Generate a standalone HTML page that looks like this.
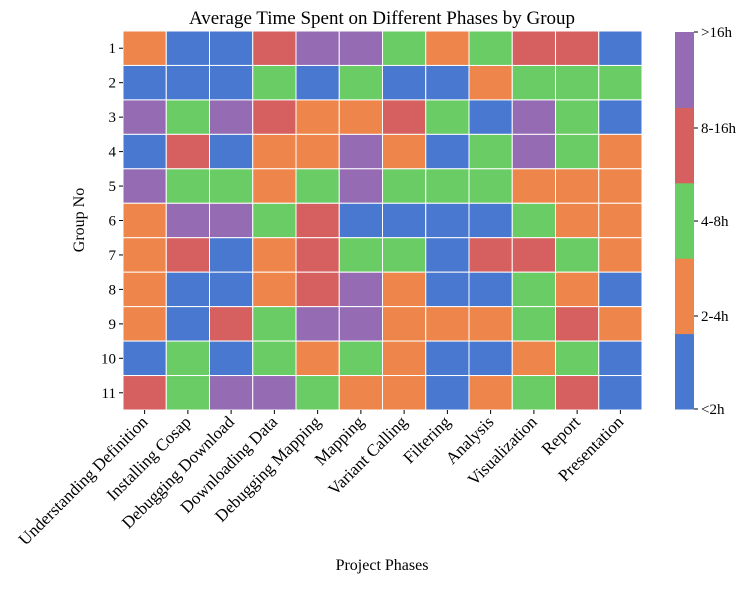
<!DOCTYPE html>
<html><head><meta charset="utf-8"><style>
body{margin:0;background:#fff;}
svg text{font-family:"Liberation Serif",serif;fill:#000;}
</style></head><body>
<svg id="chart" width="752" height="584" xmlns="http://www.w3.org/2000/svg">
<text x="382" y="24" font-size="19" text-anchor="middle">Average Time Spent on Different Phases by Group</text>
<text x="382" y="570" font-size="16" text-anchor="middle">Project Phases</text>
<text transform="translate(84,220) rotate(-90)" font-size="16" text-anchor="middle">Group No</text>
<g id="cells"></g><g id="xt"></g><g id="yt"></g><g id="cb"></g>
</svg>
<script>
const phases=["Understanding Definition","Installing Cosap","Debugging Download","Downloading Data","Debugging Mapping","Mapping","Variant Calling","Filtering","Analysis","Visualization","Report","Presentation"];
const groups=["1","2","3","4","5","6","7","8","9","10","11"];
const levels=["<2h","2-4h","4-8h","8-16h",">16h"];
const values=[
[1,0,0,3,4,4,2,1,2,3,3,0],
[0,0,0,2,0,2,0,0,1,2,2,2],
[4,2,4,3,1,1,3,2,0,4,2,0],
[0,3,0,1,1,4,1,0,2,4,2,1],
[4,2,2,1,2,4,2,2,2,1,1,1],
[1,4,4,2,3,0,0,0,0,2,1,1],
[1,3,0,1,3,2,2,0,3,3,2,1],
[1,0,0,1,3,4,1,0,0,2,1,0],
[1,0,3,2,4,4,1,1,1,2,3,1],
[0,2,0,2,1,2,1,0,0,1,2,0],
[3,2,4,4,2,1,1,0,1,2,3,0]];
const colors=["#4878d0","#ee854a","#6acc64","#d65f5f","#956cb4"];
const NS="http://www.w3.org/2000/svg";
const X0=123,X1=642,Y0=31,Y1=410;
const cw=(X1-X0)/phases.length, ch=(Y1-Y0)/groups.length;
const xs=i=>X0+i*cw, ys=j=>Y0+j*ch;
function mk(t,a,p){const e=document.createElementNS(NS,t);for(const k in a)e.setAttribute(k,a[k]);p.appendChild(e);return e;}
const cells=document.getElementById('cells');
values.forEach((row,j)=>row.forEach((v,i)=>{
 const r=mk('rect',{x:xs(i),y:ys(j),width:cw,height:ch,fill:colors[v],stroke:'#fff','stroke-width':1},cells);
 
 
}));
const xt=document.getElementById('xt');
phases.forEach((p,i)=>{
 const cx=xs(i)+cw/2;
 mk('line',{x1:cx,y1:Y1,x2:cx,y2:Y1+4,stroke:'#000'},xt);
 const t=mk('text',{transform:`translate(${cx+4},${Y1+13}) rotate(-45)`,'font-size':17,'text-anchor':'end'},xt);
 t.textContent=p;
 
 
});
const yt=document.getElementById('yt');
groups.forEach((g,j)=>{
 const cy=ys(j)+ch/2;
 mk('line',{x1:X0-4,y1:cy,x2:X0,y2:cy,stroke:'#000'},yt);
 const t=mk('text',{x:X0-7,y:cy+5,'font-size':15,'text-anchor':'end'},yt);
 t.textContent=g;
 
 
});
const cb=document.getElementById('cb');
const CX=675,CW=19,CT=32,CB=409,seg=(CB-CT)/5;
levels.forEach((l,k)=>{
 const r=mk('rect',{x:CX,y:CB-(k+1)*seg,width:CW,height:seg+0.5,fill:colors[k]},cb);
 
 
});
const tickY=[409,316,221,128,32];
levels.forEach((l,k)=>{
 mk('line',{x1:CX+CW,y1:tickY[k],x2:CX+CW+4,y2:tickY[k],stroke:'#000'},cb);
 const t=mk('text',{x:CX+CW+7,y:tickY[k]+5,'font-size':15},cb);
 t.textContent=l;
 
 
});
</script>
</body></html>
